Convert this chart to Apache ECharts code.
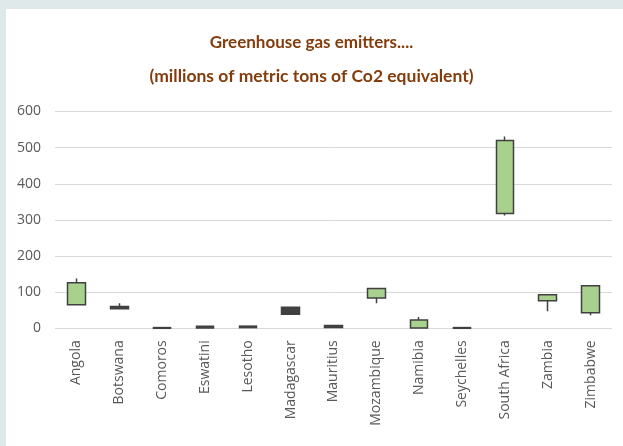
<!DOCTYPE html>
<html>
<head>
<meta charset="utf-8">
<script src="https://cdn.jsdelivr.net/npm/echarts@6/dist/echarts.min.js"></script>
<style>
	body {margin: 0; background: #dfe9e9;}
	#frame {position: absolute; left: 6px; top: 9px; width: 617px; height: 437px; background: #fff;}
	#main {position: absolute; left: 0; top: 0; width: 623px; height: 446px;}
</style>
</head>
<body>
<div id="frame"></div>
<div id="main"></div>
<script>
	// countries along the x axis
	const countries = ['Angola', 'Botswana', 'Comoros', 'Eswatini', 'Lesotho', 'Madagascar', 'Mauritius',
		'Mozambique', 'Namibia', 'Seychelles', 'South Africa', 'Zambia', 'Zimbabwe'];
	// open / close / low / high
	const openVals = [65, 60, 2, 6, 6, 58, 8, 84, 1, 2, 318, 76, 43];
	const closeVals = [126, 54, 0, 1, 2, 39, 2, 110, 23, 0, 520, 93, 118];
	const lowVals = [65, 54, 0, 1, 2, 39, 2, 69, 1, 0, 312, 47, 36];
	const highVals = [138, 69, 2, 6, 6, 58, 8, 110, 31, 2, 531, 93, 118];
	const yTicks = [0, 100, 200, 300, 400, 500, 600];

	const chart = echarts.init(document.getElementById('main'));

	const data = countries.map((c, i) => [openVals[i], closeVals[i], lowVals[i], highVals[i]]);

	const titleFont = 'Lato, "Open Sans", sans-serif';
	const labelFont = '"Open Sans", sans-serif';

	const option = {
		animation: false,
		title: [
			{
				text: 'Greenhouse gas emitters....',
				left: 'center',
				top: 29,
				textStyle: {color: '#843c0c', fontSize: 17, fontWeight: 'bold', fontFamily: titleFont}
			},
			{
				text: '(millions of metric tons of Co2 equivalent)',
				left: 'center',
				top: 62,
				textStyle: {color: '#843c0c', fontSize: 17.5, fontWeight: 'bold', fontFamily: titleFont}
			}
		],
		grid: {left: 55, right: 11, top: 111.5, bottom: 117.7},
		xAxis: {
			type: 'category',
			data: countries,
			axisLine: {show: false},
			axisTick: {show: false},
			axisLabel: {rotate: 90, color: '#595959', fontSize: 14, fontFamily: labelFont, margin: 12, interval: 0}
		},
		yAxis: {
			type: 'value',
			min: yTicks[0],
			max: yTicks[yTicks.length - 1],
			interval: 100,
			axisLine: {show: false},
			axisTick: {show: false},
			axisLabel: {color: '#595959', fontSize: 14, fontFamily: labelFont, margin: 14},
			splitLine: {lineStyle: {color: '#d9d9d9', width: 1}}
		},
		series: [{
			type: 'candlestick',
			data: data,
			barWidth: 18,
			itemStyle: {
				color: '#a9d18e',
				color0: '#404040',
				borderColor: '#404040',
				borderColor0: '#404040',
				borderWidth: 1.5
			}
		}]
	};
	chart.setOption(option);
</script>
</body>
</html>
